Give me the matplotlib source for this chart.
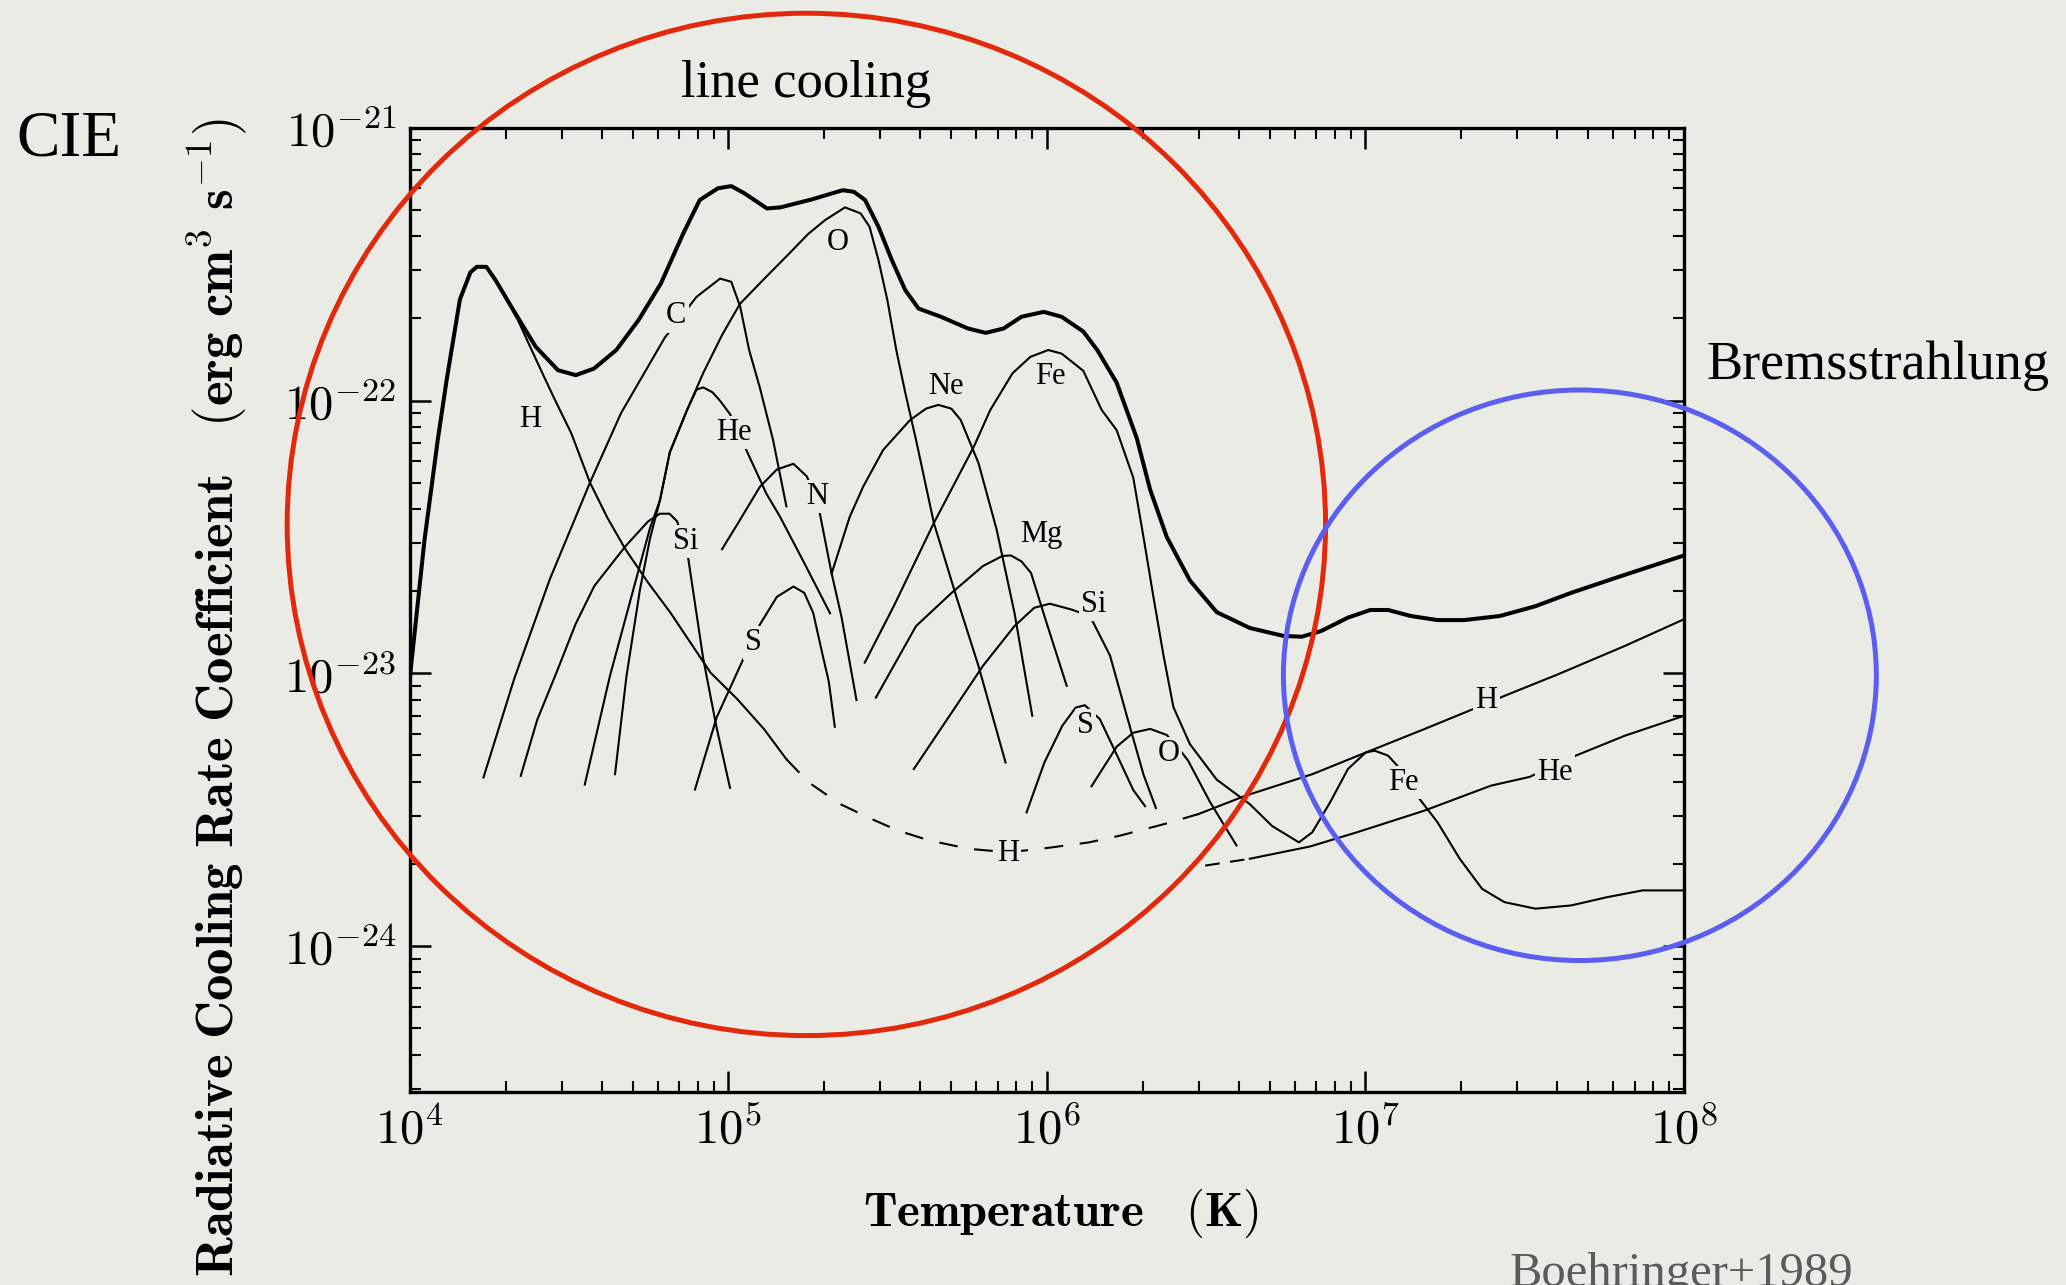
import numpy as np
import matplotlib.pyplot as plt
from matplotlib.patches import Ellipse
from matplotlib.ticker import LogLocator, FuncFormatter, NullFormatter

plt.rcParams['mathtext.fontset'] = 'cm'

total_logT = [4.00, 4.004, 4.046, 4.088, 4.116, 4.157, 4.19, 4.21, 4.24, 4.269, 4.325, 4.395,
              4.465, 4.521, 4.578, 4.648, 4.718, 4.788, 4.858, 4.91, 4.967, 5.009, 5.051,
              5.121, 5.163, 5.261, 5.359, 5.394, 5.429, 5.471, 5.513, 5.555, 5.597, 5.667,
              5.752, 5.808, 5.864, 5.92, 5.99, 6.046, 6.114, 6.158, 6.219, 6.282, 6.324,
              6.376, 6.449, 6.533, 6.637, 6.742, 6.80, 6.861, 6.945, 7.015, 7.071, 7.142,
              7.226, 7.31, 7.422, 7.534, 7.646, 7.786, 7.898, 8.0]
total_logL = [-23.02, -22.97, -22.51, -22.14, -21.92, -21.63, -21.53, -21.51, -21.51, -21.559,
              -21.669, -21.803, -21.889, -21.907, -21.883, -21.815, -21.705, -21.571, -21.388,
              -21.265, -21.222, -21.214, -21.241, -21.296, -21.292, -21.263, -21.229, -21.235,
              -21.265, -21.363, -21.485, -21.595, -21.663, -21.693, -21.736, -21.752, -21.736,
              -21.693, -21.675, -21.693, -21.747, -21.815, -21.935, -22.138, -22.327, -22.50,
              -22.66, -22.776, -22.834, -22.863, -22.866, -22.845, -22.796, -22.768, -22.768,
              -22.79, -22.805, -22.805, -22.79, -22.754, -22.705, -22.65, -22.607, -22.568]

h_logT = [4.24, 4.28, 4.339, 4.40, 4.451, 4.507, 4.565, 4.62, 4.677, 4.748, 4.818, 4.944,
          5.028, 5.112, 5.182, 5.252, 5.35, 5.449, 5.533, 5.631, 5.757, 5.878, 5.978, 6.132,
          6.23, 6.371, 6.476, 6.623, 6.833, 7.015, 7.184, 7.324, 7.436, 7.604, 7.814, 8.0]
h_logL = [-21.51, -21.58, -21.705, -21.86, -21.987, -22.121, -22.30, -22.43, -22.546, -22.668,
          -22.778, -22.998, -23.095, -23.205, -23.315, -23.40, -23.479, -23.534, -23.577,
          -23.613, -23.644, -23.656, -23.644, -23.62, -23.595, -23.552, -23.516, -23.449,
          -23.37, -23.284, -23.205, -23.138, -23.083, -23.004, -22.90, -22.802]

c_logT = [4.231, 4.327, 4.439, 4.565, 4.663, 4.80, 4.90, 4.974, 5.009, 5.037, 5.065, 5.098,
          5.14, 5.182]
c_logL = [-23.382, -23.022, -22.656, -22.302, -22.046, -21.77, -21.62, -21.553, -21.565,
          -21.656, -21.815, -21.95, -22.144, -22.388]

o_logT = [4.549, 4.628, 4.701, 4.754, 4.785, 4.816, 4.869, 4.921, 4.98, 5.036, 5.109, 5.191,
          5.25, 5.303, 5.366, 5.415, 5.443, 5.471, 5.499, 5.527, 5.555, 5.59, 5.645, 5.715,
          5.785, 5.87]
o_logL = [-23.408, -23.01, -22.695, -22.467, -22.366, -22.19, -22.038, -21.899, -21.76,
          -21.646, -21.558, -21.461, -21.39, -21.339, -21.292, -21.314, -21.363, -21.485,
          -21.632, -21.815, -21.97, -22.15, -22.449, -22.717, -22.973, -23.327]

he_logT = [4.644, 4.68, 4.722, 4.754, 4.785, 4.816, 4.869, 4.90, 4.921, 4.95, 4.973, 5.005,
           5.052, 5.119, 5.162, 5.24, 5.319]
he_logL = [-23.37, -23.01, -22.695, -22.505, -22.366, -22.19, -22.038, -21.96, -21.952,
           -21.97, -22.0, -22.05, -22.171, -22.341, -22.426, -22.60, -22.78]

si_logT = [4.348, 4.40, 4.46, 4.52, 4.579, 4.677, 4.748, 4.785, 4.815, 4.839, 4.874, 4.921,
           4.963, 5.005]
si_logL = [-23.376, -23.17, -22.998, -22.82, -22.68, -22.534, -22.443, -22.415, -22.415,
           -22.443, -22.58, -22.947, -23.2, -23.42]

s_logT = [4.895, 4.963, 5.047, 5.099, 5.152, 5.204, 5.238, 5.266, 5.294, 5.315, 5.334]
s_logL = [-23.426, -23.162, -22.947, -22.821, -22.72, -22.682, -22.705, -22.778, -22.924,
          -23.03, -23.196]

n_logT = [4.98, 5.03, 5.099, 5.152, 5.204, 5.246, 5.265, 5.287, 5.324, 5.355, 5.402]
n_logL = [-22.545, -22.45, -22.316, -22.253, -22.232, -22.278, -22.33, -22.414, -22.634,
          -22.793, -23.098]

ne_logT = [5.324, 5.381, 5.423, 5.486, 5.57, 5.62, 5.659, 5.70, 5.729, 5.785, 5.842, 5.898,
           5.954]
ne_logL = [-22.634, -22.426, -22.316, -22.181, -22.072, -22.03, -22.016, -22.03, -22.071,
           -22.229, -22.473, -22.778, -23.156]

fe_logT = [5.428, 5.519, 5.645, 5.771, 5.822, 5.892, 5.948, 6.004, 6.046, 6.114, 6.172, 6.219,
           6.271, 6.303, 6.334, 6.366, 6.397, 6.449, 6.533, 6.637, 6.707, 6.763, 6.791, 6.833,
           6.889, 6.945, 7.001, 7.029, 7.071, 7.10, 7.17, 7.226, 7.296, 7.366, 7.436, 7.534,
           7.646, 7.758, 7.87, 8.0]
fe_logL = [-22.961, -22.754, -22.449, -22.168, -22.035, -21.90, -21.84, -21.815, -21.828,
           -21.891, -22.035, -22.109, -22.283, -22.50, -22.718, -22.935, -23.124, -23.26,
           -23.39, -23.48, -23.56, -23.60, -23.62, -23.583, -23.473, -23.351, -23.29, -23.284,
           -23.302, -23.339, -23.461, -23.546, -23.68, -23.79, -23.839, -23.863, -23.851,
           -23.821, -23.796, -23.796]

mg_logT = [5.463, 5.589, 5.701, 5.799, 5.86, 5.887, 5.92, 5.95, 5.992, 6.062]
mg_logL = [-23.089, -22.827, -22.705, -22.607, -22.57, -22.568, -22.59, -22.632, -22.79,
           -23.046]

si2_logT = [5.582, 5.701, 5.799, 5.898, 5.96, 6.009, 6.076, 6.135, 6.198, 6.25, 6.303, 6.342]
si2_logL = [-23.351, -23.144, -22.973, -22.827, -22.76, -22.745, -22.766, -22.79, -22.935,
            -23.153, -23.371, -23.494]

s2_logT = [5.936, 5.992, 6.048, 6.09, 6.119, 6.166, 6.219, 6.271, 6.308]
s2_logL = [-23.51, -23.327, -23.193, -23.126, -23.117, -23.168, -23.298, -23.428, -23.487]

o2_logT = [6.14, 6.219, 6.271, 6.324, 6.376, 6.41, 6.443, 6.512, 6.595]
o2_logL = [-23.414, -23.269, -23.218, -23.204, -23.226, -23.27, -23.32, -23.472, -23.631]

hebr_logT = [6.497, 6.637, 6.826, 6.973, 7.184, 7.394, 7.515, 7.66, 7.814, 8.0]
hebr_logL = [-23.705, -23.68, -23.635, -23.583, -23.504, -23.412, -23.38, -23.302, -23.229,
             -23.156]

labels = ['H', 'C', 'O', 'He', 'N', 'Si', 'S', 'Ne', 'Fe', 'Mg', 'Si', 'S', 'O', 'H', 'H',
          'Fe', 'He']
label_logT = [4.376, 4.836, 5.344, 5.018, 5.278, 4.865, 5.08, 5.684, 6.01, 5.981, 6.147,
              6.122, 6.383, 5.878, 7.38, 7.119, 7.595]
label_logL = [-22.07, -21.69, -21.42, -22.116, -22.353, -22.517, -22.889, -21.947, -21.913,
              -22.493, -22.749, -23.193, -23.295, -23.662, -23.101, -23.401, -23.362]

bg = '#ebebe6'
fig = plt.figure(figsize=(20.66, 12.85), dpi=100, facecolor=bg)
ax = fig.add_axes([0.1984, 0.15, 0.6167, 0.7506])
ax.set_facecolor('none')


def curve(lt, ll, lw=1.5, **kw):
    ax.plot(10 ** np.asarray(lt), 10 ** np.asarray(ll), color='k', lw=lw,
            solid_joinstyle='round', **kw)


curve(total_logT, total_logL, lw=2.9)

# hydrogen: solid, dashed through the minimum, solid again for bremsstrahlung
hT = np.asarray(h_logT)
hL = np.asarray(h_logL)
a = hT <= 5.182
b = (hT >= 5.182) & (hT <= 6.476)
c = hT >= 6.476
curve(hT[a], hL[a])
curve(hT[b], hL[b], dashes=(9, 8))
curve(hT[c], hL[c])

for lt, ll in [(c_logT, c_logL), (o_logT, o_logL), (he_logT, he_logL), (si_logT, si_logL),
               (s_logT, s_logL), (n_logT, n_logL), (ne_logT, ne_logL), (fe_logT, fe_logL),
               (mg_logT, mg_logL), (si2_logT, si2_logL), (s2_logT, s2_logL),
               (o2_logT, o2_logL)]:
    curve(lt, ll)

curve(hebr_logT[:2], hebr_logL[:2], dashes=(7, 5))
curve(hebr_logT[1:], hebr_logL[1:])

for name, lt, ll in zip(labels, label_logT, label_logL):
    ax.text(10 ** lt, 10 ** ll, name, fontsize=22, family='Liberation Serif',
            ha='center', va='center', zorder=4,
            bbox=dict(facecolor=bg, edgecolor='none', pad=1.5))

ax.set_xscale('log')
ax.set_yscale('log')
ax.set_xlim(1e4, 1e8)
ax.set_ylim(10 ** -24.536, 1e-21)

for axis in (ax.xaxis, ax.yaxis):
    axis.set_major_locator(LogLocator(base=10, numticks=12))
    axis.set_minor_locator(LogLocator(base=10, subs=np.arange(2, 10), numticks=60))
    axis.set_minor_formatter(NullFormatter())
    axis.set_major_formatter(FuncFormatter(lambda v, p: r'$10^{%d}$' % round(np.log10(v))))

ax.tick_params(which='both', direction='in', top=True, right=True, colors='k')
ax.tick_params(which='major', length=15, width=1.8, labelsize=35, pad=10)
ax.tick_params(which='minor', length=8, width=1.5)
for sp in ax.spines.values():
    sp.set_linewidth(2.4)

ax.set_xlabel(r'$\mathbf{Temperature\ \ \ (K)}$', fontsize=35)
ax.xaxis.set_label_coords(0.511, -0.098)
ax.set_ylabel(r'$\mathbf{Radiative\ Cooling\ Rate\ Coefficient\ \ \ (erg\ cm^3\ s^{-1})}$',
              fontsize=38)
ax.yaxis.set_label_coords(-0.1252, 0.4094)

fig.text(0.0332, 0.8913, 'CIE', fontsize=47, family='Liberation Serif', ha='center', va='center')
fig.text(0.3901, 0.9346, 'line cooling', fontsize=38, family='Liberation Serif',
         ha='center', va='center')
fig.text(0.9088, 0.7152, 'Bremsstrahlung', fontsize=39, family='Liberation Serif',
         ha='center', va='center')
fig.text(0.8137, 0.0257, 'Boehringer+1989', fontsize=35, family='Liberation Serif',
         color='#5a5a5a', ha='center', va='top')

fig.add_artist(Ellipse((0.3903, 0.5919), 0.5026, 0.7956, transform=fig.transFigure,
                       facecolor='none', edgecolor='#e3290c', lw=3.6, zorder=5))
fig.add_artist(Ellipse((0.7647, 0.4745), 0.287, 0.444, transform=fig.transFigure,
                       facecolor='none', edgecolor='#5a5ff0', lw=3.6, zorder=5))

fig.savefig('out.png', dpi=100, facecolor=bg)
